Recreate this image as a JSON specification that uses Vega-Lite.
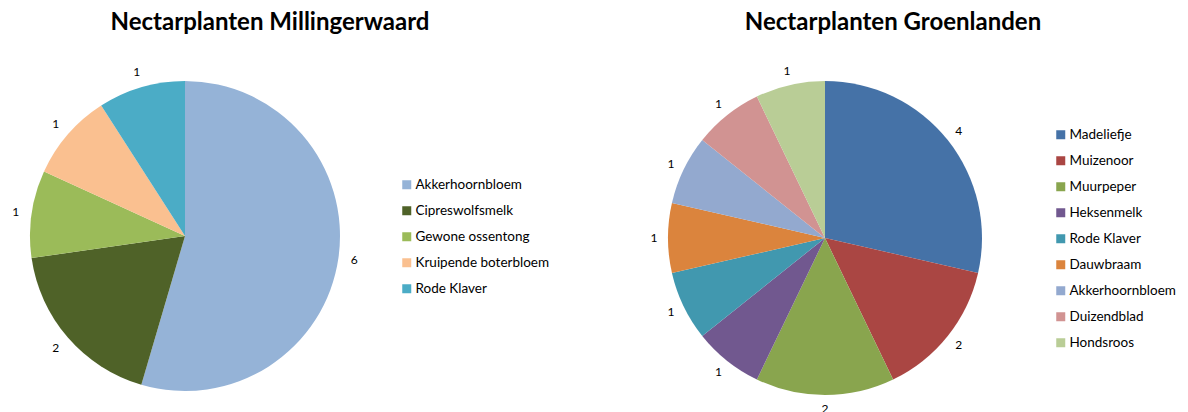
{
  "$schema": "https://vega.github.io/schema/vega-lite/v6.json",
  "padding": {"top": 11, "left": 0, "right": 0, "bottom": 0},
  "background": "white",
  "bounds": "flush",
  "spacing": 285,
  "resolve": {"scale": {"color": "independent"}, "legend": {"color": "independent"}},
  "config": {
    "view": {"stroke": null},
    "font": "Lato",
    "title": {"fontSize": 24, "fontWeight": "bold", "color": "#000000", "font": "Lato"},
    "legend": {"labelFont": "Lato", "labelFontSize": 13.5, "labelColor": "#000000", "symbolType": "square", "symbolSize": 81, "symbolStrokeWidth": 0, "rowPadding": 11, "labelOffset": 2}
  },
  "hconcat": [
    {
      "title": {"text": "Nectarplanten Millingerwaard", "dx": 85, "offset": 21},
      "width": 370,
      "height": 360,
      "data": {"values": [
        {"nr": 1, "naam": "Akkerhoornbloem", "aantal": 6},
        {"nr": 2, "naam": "Cipreswolfsmelk", "aantal": 2},
        {"nr": 3, "naam": "Gewone ossentong", "aantal": 1},
        {"nr": 4, "naam": "Kruipende boterbloem", "aantal": 1},
        {"nr": 5, "naam": "Rode Klaver", "aantal": 1}
      ]},
      "encoding": {
        "theta": {"field": "aantal", "type": "quantitative", "stack": true},
        "order": {"field": "nr", "type": "quantitative"}
      },
      "layer": [
        {
          "mark": {"type": "arc", "outerRadius": 155},
          "encoding": {
            "color": {
              "field": "naam", "type": "nominal",
              "scale": {
                "domain": ["Akkerhoornbloem", "Cipreswolfsmelk", "Gewone ossentong", "Kruipende boterbloem", "Rode Klaver"],
                "range": ["#95B3D7", "#4F6228", "#9BBB59", "#FAC090", "#4BACC6"]
              },
              "legend": {"orient": "none", "legendX": 400, "legendY": 122, "title": null}
            }
          }
        },
        {
          "mark": {"type": "text", "radius": 171, "fontSize": 12, "color": "#000000"},
          "encoding": {
            "detail": {"field": "naam", "type": "nominal"},
            "text": {"field": "aantal", "type": "quantitative"}
          }
        }
      ]
    },
    {
      "title": {"text": "Nectarplanten Groenlanden", "dx": 68, "offset": 21},
      "width": 340,
      "height": 364,
      "data": {"values": [
        {"nr": 1, "naam": "Madeliefje", "aantal": 4},
        {"nr": 2, "naam": "Muizenoor", "aantal": 2},
        {"nr": 3, "naam": "Muurpeper", "aantal": 2},
        {"nr": 4, "naam": "Heksenmelk", "aantal": 1},
        {"nr": 5, "naam": "Rode Klaver", "aantal": 1},
        {"nr": 6, "naam": "Dauwbraam", "aantal": 1},
        {"nr": 7, "naam": "Akkerhoornbloem", "aantal": 1},
        {"nr": 8, "naam": "Duizendblad", "aantal": 1},
        {"nr": 9, "naam": "Hondsroos", "aantal": 1}
      ]},
      "encoding": {
        "theta": {"field": "aantal", "type": "quantitative", "stack": true},
        "order": {"field": "nr", "type": "quantitative"}
      },
      "layer": [
        {
          "mark": {"type": "arc", "outerRadius": 157},
          "encoding": {
            "color": {
              "field": "naam", "type": "nominal",
              "scale": {
                "domain": ["Madeliefje", "Muizenoor", "Muurpeper", "Heksenmelk", "Rode Klaver", "Dauwbraam", "Akkerhoornbloem", "Duizendblad", "Hondsroos"],
                "range": ["#4572A7", "#AA4643", "#89A54E", "#71588F", "#4198AF", "#DB843D", "#93A9CF", "#D19392", "#B9CD96"]
              },
              "legend": {"orient": "none", "legendX": 399, "legendY": 72, "title": null}
            }
          }
        },
        {
          "mark": {"type": "text", "radius": 171, "fontSize": 12, "color": "#000000"},
          "encoding": {
            "detail": {"field": "naam", "type": "nominal"},
            "text": {"field": "aantal", "type": "quantitative"}
          }
        }
      ]
    }
  ]
}
